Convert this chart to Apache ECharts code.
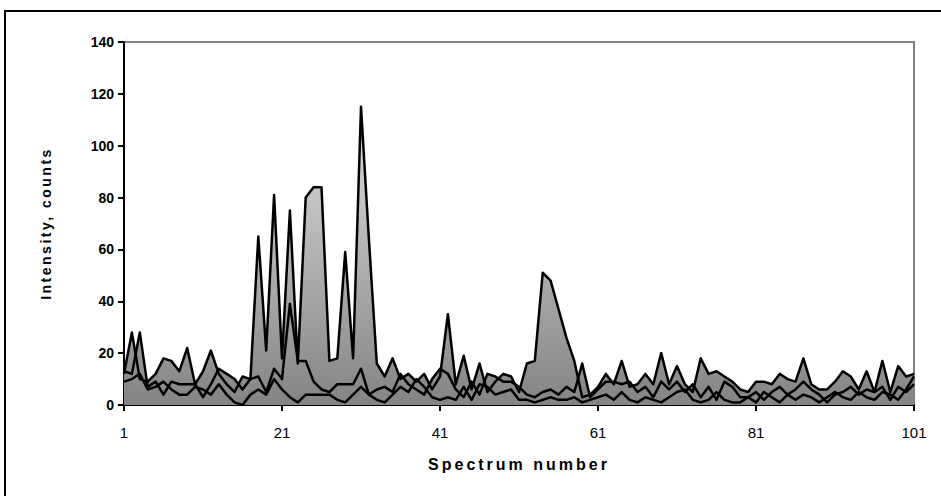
<!DOCTYPE html>
<html><head><meta charset="utf-8">
<script src="https://cdn.jsdelivr.net/npm/echarts@6/dist/echarts.min.js"></script>
<style>html,body{margin:0;padding:0;background:#fff}#c{width:941px;height:496px}</style>
</head><body><div id="c"></div>
<script>
// Spectrum numbers 1..101
const categories = [];
for (let i = 1; i <= 101; i++) categories.push(String(i));

const yTicks = [0, 20, 40, 60, 80, 100, 120, 140];

const seriesA = [
  12, 28, 10, 9, 12, 18, 17, 13, 22, 8,
  13, 21, 12, 8, 5, 11, 10, 65, 21, 81,
  18, 75, 16, 80, 84, 84, 17, 18, 59, 18,
  115, 64, 16, 11, 18, 10, 12, 9, 12, 6,
  11, 35, 8, 19, 6, 16, 5, 9, 12, 11,
  5, 16, 17, 51, 48, 37, 26, 17, 3, 4,
  7, 12, 8, 17, 7, 8, 12, 8, 20, 8,
  15, 8, 5, 18, 12, 13, 11, 9, 6, 5,
  9, 9, 8, 12, 10, 9, 18, 8, 6, 6,
  9, 13, 11, 6, 13, 5, 17, 5, 15, 11,
  12
];
const seriesB = [
  13, 12, 28, 7, 9, 4, 9, 8, 8, 8,
  3, 8, 14, 12, 10, 6, 10, 11, 5, 14,
  10, 39, 17, 17, 9, 6, 5, 8, 8, 8,
  14, 4, 6, 7, 5, 12, 8, 6, 4, 10,
  14, 12, 6, 3, 9, 4, 12, 11, 9, 9,
  7, 4, 3, 5, 6, 4, 7, 5, 16, 3,
  6, 9, 9, 8, 9, 5, 7, 3, 9, 6,
  9, 5, 8, 3, 7, 2, 9, 7, 3, 3,
  5, 2, 5, 7, 4, 6, 9, 6, 4, 1,
  4, 5, 7, 4, 6, 5, 7, 2, 7, 5,
  8
];
const seriesC = [
  9, 10, 12, 6, 7, 9, 6, 4, 4, 7,
  6, 4, 8, 4, 1, 0, 4, 6, 4, 10,
  6, 3, 1, 4, 4, 4, 4, 2, 1, 4,
  7, 4, 2, 1, 4, 7, 5, 10, 7, 3,
  2, 3, 2, 7, 2, 8, 7, 4, 5, 6,
  2, 2, 1, 2, 3, 2, 2, 3, 1, 2,
  3, 4, 2, 5, 2, 1, 3, 2, 1, 3,
  5, 6, 2, 1, 2, 5, 2, 1, 1, 3,
  1, 5, 3, 1, 4, 2, 4, 3, 1, 3,
  5, 3, 2, 5, 3, 2, 5, 4, 2, 6,
  11
];
const seriesList = [seriesA, seriesB, seriesC];

const chart = echarts.init(document.getElementById('c'), null, {renderer: 'svg'});
const grad = new echarts.graphic.LinearGradient(0, 42, 0, 405, [
  {offset: 0, color: '#f4f4f4'},
  {offset: 1, color: '#848484'}
], true);

const series = [];
seriesList.forEach(function (d) {
  series.push({
    type: 'line', data: d, showSymbol: false, symbol: 'none', silent: true,
    lineStyle: {width: 0, opacity: 0}, areaStyle: {color: grad, opacity: 1}, z: 2
  });
});
seriesList.forEach(function (d) {
  series.push({
    type: 'line', data: d, showSymbol: false, symbol: 'none', silent: true,
    lineStyle: {width: 2.5, color: '#000', join: 'round'}, z: 3
  });
});

chart.setOption({
  animation: false,
  backgroundColor: '#fff',
  grid: {left: 124, right: 27, top: 42, bottom: 91, show: true, borderColor: '#808080', borderWidth: 2, backgroundColor: 'transparent'},
  xAxis: {
    type: 'category', data: categories, boundaryGap: false,
    name: 'Spectrum number', nameLocation: 'middle', nameGap: 51,
    nameTextStyle: {fontFamily: 'Liberation Sans', fontWeight: 'bold', fontSize: 16, color: '#000'},
    axisLine: {lineStyle: {color: '#000', width: 2}},
    axisTick: {interval: 19, length: 6, lineStyle: {color: '#000', width: 2}},
    axisLabel: {interval: 19, margin: 20, fontFamily: 'Liberation Sans', fontSize: 15, color: '#000'},
    splitLine: {show: false}
  },
  yAxis: {
    type: 'value', min: yTicks[0], max: yTicks[yTicks.length - 1], interval: 20,
    name: 'Intensity, counts', nameLocation: 'middle', nameGap: 71,
    nameTextStyle: {fontFamily: 'Liberation Sans', fontWeight: 'bold', fontSize: 14, color: '#000'},
    axisLine: {show: true, lineStyle: {color: '#000', width: 2}},
    axisTick: {show: true, length: 6, lineStyle: {color: '#000', width: 2}},
    axisLabel: {margin: 10, fontFamily: 'Liberation Sans', fontWeight: 'bold', fontSize: 14, color: '#000'},
    splitLine: {show: false}
  },
  graphic: [{
    type: 'rect', shape: {x: 5, y: 11, width: 960, height: 520}, silent: true,
    style: {fill: 'none', stroke: '#000', lineWidth: 2}, z: 100
  }],
  series: series
});

function spaceNames() {
  document.querySelectorAll('#c text').forEach(function (t) {
    if (t.textContent === 'Spectrum number') t.style.letterSpacing = '3px';
    if (t.textContent === 'Intensity, counts') t.style.letterSpacing = '2.5px';
  });
}
spaceNames();
chart.on('finished', spaceNames);
</script></body></html>
